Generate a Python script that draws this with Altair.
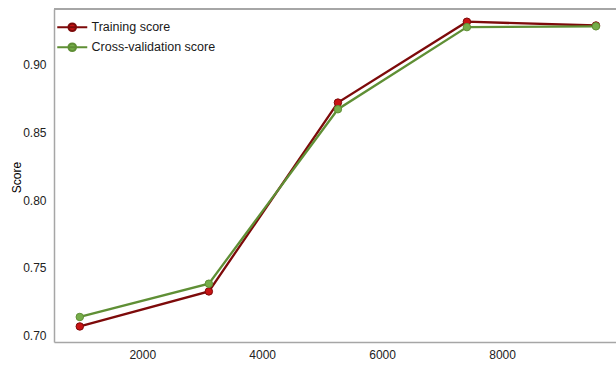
import altair as alt
import pandas as pd

# Learning-curve results: training-set sizes and mean scores per split
train_sizes = [959, 3111, 5263, 7414, 9566]
training_score = [0.7067, 0.7326, 0.8722, 0.9320, 0.9292]
cv_score = [0.7137, 0.7383, 0.8673, 0.9280, 0.9286]
series_names = ["Training score", "Cross-validation score"]

y_ticks = [0.70, 0.75, 0.80, 0.85, 0.90]
x_ticks = [2000, 4000, 6000, 8000]

rows = []
for name, scores in zip(series_names, [training_score, cv_score]):
    for n, s in zip(train_sizes, scores):
        rows.append({"size": n, "score": s, "series": name})
df = pd.DataFrame(rows)

W, H = 562, 333
FONT = "Liberation Sans Narrow, Arial Narrow, Liberation Sans, sans-serif"
SPINE = "#a6a6a6"

line_colors = ["#7d0a0a", "#5f8f35"]
marker_colors = ["#c81414", "#76ad4a"]

x_enc = alt.X(
    "size:Q",
    scale=alt.Scale(domain=[529, 9900], nice=False, zero=False),
    axis=alt.Axis(values=x_ticks, format="d", title=None, ticks=False,
                  grid=False, labelPadding=7, domainColor=SPINE,
                  domainWidth=1.5),
)
y_enc = alt.Y(
    "score:Q",
    scale=alt.Scale(domain=[0.6952, 0.9414], nice=False, zero=False),
    axis=alt.Axis(values=y_ticks, format=".2f", title="Score", ticks=False,
                  grid=False, labelPadding=8, domainColor=SPINE,
                  domainWidth=1.5, titleFont="Liberation Sans",
                  titleFontSize=12, titleFontWeight="normal",
                  titleX=-38, titleY=168, titleBaseline="middle",
                  titleAngle=270),
)

# legend symbol: short line with a dot in the middle
symbol_path = ("M-3.75,0H3.75M-0.95,0A0.95,0.95,0,1,0,0.95,0"
               "A0.95,0.95,0,1,0,-0.95,0Z")

legend_opts = dict(title=None, orient="none", legendX=12, legendY=12,
                   symbolType=symbol_path, symbolSize=64,
                   symbolStrokeWidth=2, labelOffset=13, rowPadding=3,
                   padding=0, labelFont=FONT, labelFontSize=12.5,
                   labelColor="#1a1a1a")

stroke_enc = alt.Stroke(
    "series:N",
    scale=alt.Scale(domain=series_names, range=line_colors),
    legend=alt.Legend(**legend_opts),
)
fill_enc = alt.Fill(
    "series:N",
    scale=alt.Scale(domain=series_names, range=marker_colors),
    legend=alt.Legend(**legend_opts),
)

base = alt.Chart(df)

lines = base.mark_line(strokeWidth=2.3).encode(
    x=x_enc, y=y_enc, stroke=stroke_enc, detail="series:N"
)
points = base.mark_point(filled=True, size=56, strokeWidth=1,
                         opacity=1).encode(
    x=x_enc, y=y_enc, fill=fill_enc, stroke=stroke_enc
)

# upper spine of the frame
top_spine = alt.Chart(df).mark_rule(color=SPINE, strokeWidth=1.5).encode(
    x=alt.value(0), x2=alt.value(W), y=alt.value(0)
)

chart = (
    alt.layer(lines, points, top_spine)
    .properties(
        width=W, height=H,
        autosize=alt.AutoSizeParams(type="none"),
        padding={"left": 54, "top": 9, "right": 0, "bottom": 23},
        background="white",
    )
    .configure_view(stroke=None)
    .configure_axis(labelFont=FONT, labelFontSize=12, labelColor="#222222")
)

chart.save("out.html", embed_options={"renderer": "svg", "actions": False})
